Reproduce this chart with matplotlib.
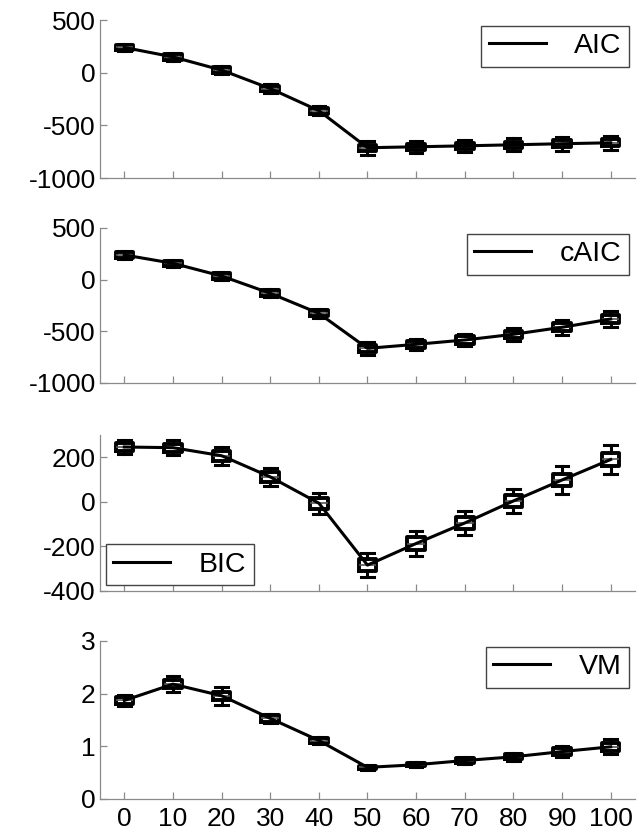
import matplotlib
matplotlib.use('Agg')
import matplotlib.pyplot as plt

plt.rcParams['font.family'] = ['Liberation Sans', 'DejaVu Sans']
plt.rcParams['axes.unicode_minus'] = False

x = [0, 10, 20, 30, 40, 50, 60, 70, 80, 90, 100]
xticks = [0, 10, 20, 30, 40, 50, 60, 70, 80, 90, 100]

# medians, half box height, half whisker span
aic = [240, 150, 25, -150, -360, -712, -703, -694, -684, -674, -665]
aic_box = [25, 25, 25, 25, 28, 30, 30, 30, 30, 32, 32]
aic_whisk = [35, 35, 40, 45, 45, 65, 55, 60, 60, 65, 65]

caic = [239, 158, 35, -132, -326, -665, -626, -584, -529, -461, -381]
caic_box = [25, 25, 25, 30, 30, 35, 35, 35, 35, 40, 40]
caic_whisk = [35, 35, 40, 40, 45, 60, 55, 60, 60, 70, 75]

bic = [246, 243, 207, 112, -6, -284, -187, -95, 4, 98, 190]
bic_box = [18, 18, 22, 22, 25, 27, 27, 27, 27, 27, 28]
bic_whisk = [31, 33, 40, 40, 47, 54, 54, 54, 54, 61, 64]

vm = [1.87, 2.18, 1.96, 1.53, 1.11, 0.60, 0.65, 0.73, 0.80, 0.90, 0.99]
vm_box = [0.06, 0.07, 0.08, 0.06, 0.05, 0.03, 0.03, 0.04, 0.05, 0.06, 0.07]
vm_whisk = [0.11, 0.15, 0.17, 0.09, 0.07, 0.05, 0.05, 0.07, 0.07, 0.10, 0.14]

GRAY = '#8a8a8a'


def panel(ax, med, box, whisk, ylim, yticks, label, loc, bbox, show_x=False):
    stats = []
    for m, b, w in zip(med, box, whisk):
        stats.append({'med': m, 'q1': m - b, 'q3': m + b,
                      'whislo': m - w, 'whishi': m + w})
    ax.plot(x, med, color='black', lw=2.2, label=label, zorder=3)
    ax.bxp(stats, positions=x, widths=3.6, showfliers=False,
           boxprops=dict(color='black', lw=2.8),
           medianprops=dict(color='#555555', lw=1.2),
           whiskerprops=dict(color='black', lw=2.2),
           capprops=dict(color='black', lw=2.2),
           capwidths=2.6, manage_ticks=False)
    ax.set_xlim(-5, 105)
    ax.set_ylim(*ylim)
    ax.set_yticks(yticks)
    ax.set_xticks(xticks)
    for s in ['top', 'right']:
        ax.spines[s].set_visible(False)
    for s in ['left', 'bottom']:
        ax.spines[s].set_color(GRAY)
        ax.spines[s].set_linewidth(0.9)
    ax.tick_params(direction='in', length=5, width=0.9, color=GRAY,
                   labelsize=19, pad=3)
    ax.tick_params(axis='x', pad=6)
    if not show_x:
        ax.set_xticklabels([])
    leg = ax.legend(loc=loc, bbox_to_anchor=bbox, fontsize=20.5,
                    fancybox=False, edgecolor='#444444', framealpha=1,
                    handlelength=2.0, handletextpad=1.0, borderpad=0.27,
                    borderaxespad=0.2)
    leg.get_frame().set_linewidth(1.0)


fig = plt.figure(figsize=(6.38, 8.36), dpi=100)
ax1 = fig.add_axes([0.1567, 0.787, 0.8386, 0.189])
ax2 = fig.add_axes([0.1567, 0.5419, 0.8386, 0.1854])
ax3 = fig.add_axes([0.1567, 0.2931, 0.8386, 0.1866])
ax4 = fig.add_axes([0.1567, 0.0443, 0.8386, 0.189])

panel(ax1, aic, aic_box, aic_whisk, (-1000, 500), [-1000, -500, 0, 500],
      'AIC', 'upper right', (1.0, 1.0))
panel(ax2, caic, caic_box, caic_whisk, (-1000, 500), [-1000, -500, 0, 500],
      'cAIC', 'upper right', (1.0, 1.0))
panel(ax3, bic, bic_box, bic_whisk, (-400, 300), [-400, -200, 0, 200],
      'BIC', 'lower left', (0.0, 0.0))
panel(ax4, vm, vm_box, vm_whisk, (0, 3), [0, 1, 2, 3],
      'VM', 'upper right', (1.0, 1.0), show_x=True)

fig.savefig('out.png', dpi=100)
